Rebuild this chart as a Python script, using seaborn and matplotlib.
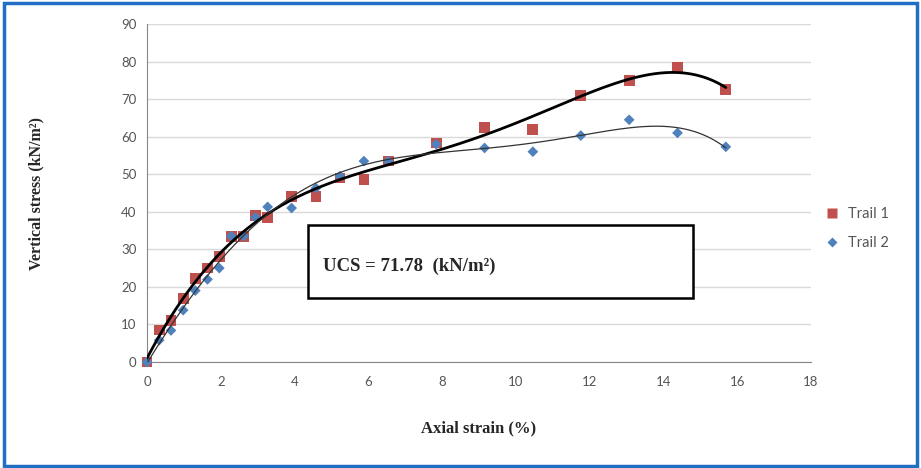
import numpy as np
import pandas as pd
import seaborn as sns
import matplotlib.pyplot as plt
from matplotlib.patches import Rectangle

# Axial strain (%) readings, shared by both trials
strain = [0, 0.33, 0.65, 0.98, 1.31, 1.64, 1.96, 2.29, 2.62, 2.94, 3.27,
          3.92, 4.58, 5.23, 5.88, 6.54, 7.84, 9.15, 10.46, 11.76, 13.07,
          14.38, 15.69]
trail1 = [0, 8.5, 11, 17, 22.3, 25, 28, 33.5, 33.5, 39, 38.5,
          44, 44, 49, 48.5, 53.5, 58.3, 62.5, 62, 71, 75, 78.5, 72.5]
trail2 = [0, 5.8, 8.4, 13.8, 19, 22, 25, 33.5, 33.5, 38.5, 41.3,
          41, 46.3, 49.5, 53.5, 53.5, 58, 57, 56, 60.3, 64.5, 61, 57.3]
series_names = ['Trail 1', 'Trail 2']
ucs_text = 'UCS = 71.78  (kN/m\u00b2)'

df = pd.DataFrame({
    'strain': strain * 2,
    'stress': trail1 + trail2,
    'trial': [series_names[0]] * len(strain) + [series_names[1]] * len(strain),
})

sns.set_style('white')
plt.rcParams['font.family'] = ['Lato', 'DejaVu Sans']

fig = plt.figure(figsize=(9.21, 4.68), dpi=100)
ax = fig.add_axes([0.1596, 0.2265, 0.721, 0.7222])

# horizontal grid
ax.set_axisbelow(True)
ax.yaxis.grid(True, color='#d9d9d9', linewidth=1)

sns.scatterplot(data=df, x='strain', y='stress', hue='trial', style='trial',
                size='trial', sizes={'Trail 1': 60, 'Trail 2': 30},
                markers={'Trail 1': 's', 'Trail 2': 'D'},
                palette={'Trail 1': '#c0504d', 'Trail 2': '#4f81bd'},
                edgecolor='none', ax=ax, zorder=3, clip_on=False)

# polynomial trend lines (as in the spreadsheet)
xs = np.linspace(min(strain), max(strain), 300)
fit1 = np.poly1d(np.polyfit(strain, trail1, 5))
fit2 = np.poly1d(np.polyfit(strain, trail2, 6))
sns.lineplot(x=xs, y=fit1(xs), color='black', linewidth=2.0, ax=ax, zorder=4)
sns.lineplot(x=xs, y=fit2(xs), color='#333333', linewidth=0.9, ax=ax, zorder=4)

ax.set_xlim(0, 18)
ax.set_ylim(0, 90)
ax.set_xticks(range(0, 19, 2))
ax.set_yticks(range(0, 91, 10))
ax.tick_params(axis='both', labelsize=9.5, labelcolor='#555555',
               color='#868686', length=4, width=1, direction='out')
ax.tick_params(axis='x', pad=6)
for side in ['top', 'right']:
    ax.spines[side].set_visible(False)
for side in ['left', 'bottom']:
    ax.spines[side].set_color('#868686')

ax.set_xlabel('Axial strain (%)', fontsize=12, fontweight='bold',
              family='Liberation Serif')
ax.set_ylabel('Vertical stress (kN/m\u00b2)', fontsize=11.5, fontweight='bold',
              family='Liberation Serif')
ax.xaxis.set_label_coords(0.5, -0.172)
ax.yaxis.set_label_coords(-0.154, 0.5)

# annotation box
ax.add_patch(Rectangle((0.2425, 0.189), 0.58, 0.216, transform=ax.transAxes,
                       facecolor='white', edgecolor='black', linewidth=1.8,
                       zorder=5, clip_on=False))
ax.text(0.265, 0.284, ucs_text, transform=ax.transAxes, fontsize=13.5,
        fontweight='bold', family='Liberation Serif', va='center', zorder=6)

leg = ax.legend(loc='center left', bbox_to_anchor=(0.99, 0.395), frameon=False,
                fontsize=10.5, labelspacing=1.0, handletextpad=0.1,
                markerscale=1.0)
for t in leg.get_texts():
    t.set_color('#555555')

# blue outer frame
fig.patches.append(Rectangle((0.004, 0.004), 0.992, 0.99, transform=fig.transFigure,
                             fill=False, edgecolor='#1f6fc4', linewidth=2.5))

fig.savefig('out.png', dpi=100)
